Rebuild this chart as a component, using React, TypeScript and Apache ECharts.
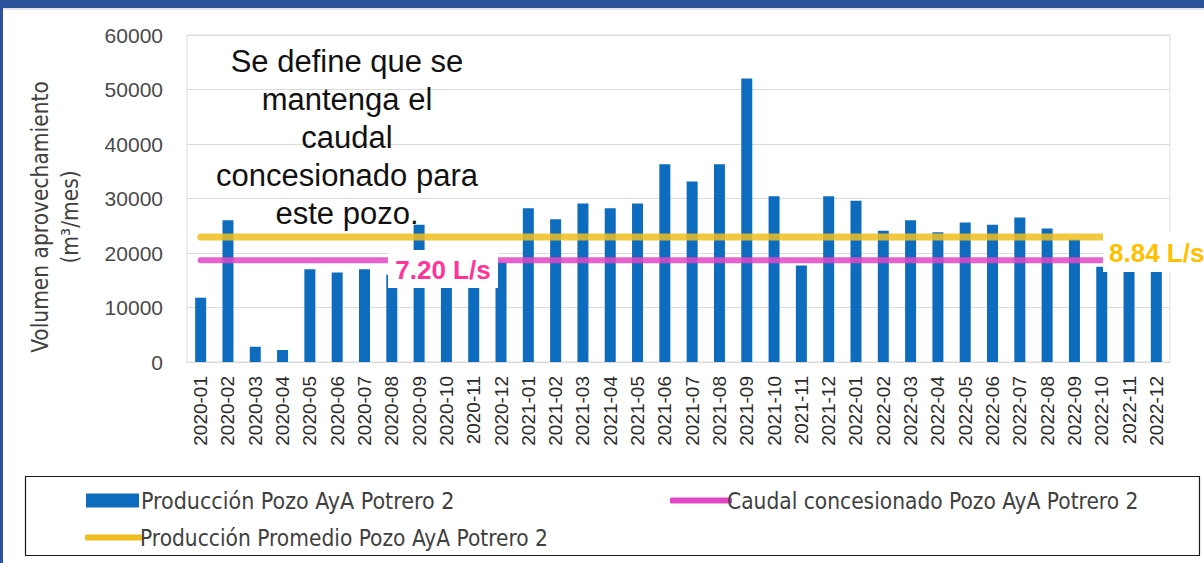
import React, { useEffect, useRef } from "react";
import * as echarts from "echarts";

const categories = [
  "2020-01","2020-02","2020-03","2020-04","2020-05","2020-06","2020-07","2020-08","2020-09","2020-10","2020-11","2020-12",
  "2021-01","2021-02","2021-03","2021-04","2021-05","2021-06","2021-07","2021-08","2021-09","2021-10","2021-11","2021-12",
  "2022-01","2022-02","2022-03","2022-04","2022-05","2022-06","2022-07","2022-08","2022-09","2022-10","2022-11","2022-12",
];
const produccion = [
  11800, 26000, 2800, 2200, 17000, 16400, 17000, 16000, 25200, 16000, 16000, 18300,
  28200, 26200, 29100, 28200, 29100, 36300, 33100, 36300, 52000, 30400, 17700, 30400,
  29600, 24100, 26000, 23800, 25600, 25200, 26500, 24500, 22500, 17500, 17000, 17000,
];
const caudalConcesionado = 18662; // 7.20 L/s
const produccionPromedio = 22913; // 8.84 L/s
const caudalLabel = "7.20 L/s";
const promedioLabel = "8.84 L/s";
const yTicks = { min: 0, max: 60000, interval: 10000 };
const seriesNames = [
  "Producción Pozo AyA Potrero 2",
  "Caudal concesionado Pozo AyA Potrero 2",
  "Producción Promedio Pozo AyA Potrero 2",
];
const noteText = "Se define que se\nmantenga el\ncaudal\nconcesionado para\neste pozo.";

const BLUE = "#0E6CBF";
const PINK = "#E346C4";
const YELLOW = "#EEBE1E";
const legendFont = "'Liberation Sans Narrow', 'DejaVu Sans Condensed', 'Liberation Sans', sans-serif";
const arial = "'Liberation Sans', Arial, sans-serif";

export default function App() {
  const ref = useRef<HTMLDivElement>(null);
  useEffect(() => {
    if (!ref.current) return;
    const chart = echarts.init(ref.current, undefined, { renderer: "svg" });
    const first = categories[0];
    const last = categories[categories.length - 1];
    chart.setOption({
      animation: false,
      backgroundColor: "#ffffff",
      grid: {
        left: 187, right: 34, top: 35, bottom: 201,
        show: true, borderColor: "#dcdcdc", borderWidth: 1,
      },
      xAxis: {
        type: "category",
        data: categories,
        axisLine: { lineStyle: { color: "#d9d9d9" } },
        axisTick: { show: false },
        axisLabel: {
          rotate: 90, interval: 0, margin: 14,
          fontSize: 19, color: "#2b2b2b", fontFamily: arial,
        },
      },
      yAxis: {
        type: "value",
        min: yTicks.min, max: yTicks.max, interval: yTicks.interval,
        axisLabel: {
          fontSize: 21, color: "#4a4a4a", margin: 24, fontFamily: arial,
          formatter: (v: number) => String(v),
        },
        splitLine: { lineStyle: { color: "#dcdcdc" } },
        axisLine: { show: false },
      },
      legend: [
        {
          left: 81, top: 484, itemWidth: 53, itemHeight: 14, itemGap: 0,
          data: [{ name: seriesNames[0], icon: "rect" }],
          textStyle: { fontSize: 23, color: "#404040", fontFamily: legendFont, padding: [0, 0, 0, -3] },
        },
        {
          left: 665, top: 484, itemWidth: 62, itemHeight: 6, itemGap: 0,
          data: [{ name: seriesNames[1], icon: "roundRect" }],
          textStyle: { fontSize: 22.5, color: "#404040", fontFamily: legendFont, padding: [0, 0, 0, -10] },
        },
        {
          left: 80, top: 521, itemWidth: 58, itemHeight: 6, itemGap: 0,
          data: [{ name: seriesNames[2], icon: "roundRect" }],
          textStyle: { fontSize: 22.5, color: "#404040", fontFamily: legendFont, padding: [0, 0, 0, -8] },
        },
      ],
      series: [
        {
          name: seriesNames[0], type: "bar", data: produccion, barWidth: 11,
          itemStyle: { color: BLUE }, z: 2,
        },
        {
          name: seriesNames[1], type: "line",
          data: [[first, caudalConcesionado], [last, caudalConcesionado]],
          symbol: "none", lineStyle: { color: PINK, width: 6, opacity: 0.85, cap: "round" },
          itemStyle: { color: PINK }, z: 3,
        },
        {
          name: seriesNames[2], type: "line",
          data: [[first, produccionPromedio], [last, produccionPromedio]],
          symbol: "none", lineStyle: { color: YELLOW, width: 7, opacity: 0.85, cap: "round" },
          itemStyle: { color: YELLOW }, z: 3,
        },
      ],
      graphic: [
        { type: "rect", shape: { x: 0, y: 0, width: 1204, height: 8 }, style: { fill: "#2D549B" }, z: 100 },
        { type: "rect", shape: { x: 0, y: 8, width: 1204, height: 2 }, style: { fill: "#e6e6e6" }, z: 100 },
        { type: "rect", shape: { x: 0, y: 0, width: 3, height: 563 }, style: { fill: "#2D549B" }, z: 100 },
        {
          type: "rect", shape: { x: 25.5, y: 476.5, width: 1174, height: 79 },
          style: { fill: "none", stroke: "#1a1a1a", lineWidth: 1.2 }, z: 50,
        },
        {
          type: "text", x: 55, y: 217, rotation: Math.PI / 2, z: 50,
          style: {
            text: "Volumen aprovechamiento\n(m³/mes)", align: "center", verticalAlign: "middle",
            fontSize: 22.5, lineHeight: 30, fill: "#404040", fontFamily: legendFont,
          },
        },
        {
          type: "text", x: 347, y: 42, z: 50,
          style: {
            text: noteText, align: "center", verticalAlign: "top",
            fontSize: 31, lineHeight: 38, fill: "#111111", fontFamily: arial,
          },
        },
        {
          type: "rect", shape: { x: 388, y: 250, width: 110, height: 38 },
          style: { fill: "#ffffff" }, z: 59,
        },
        {
          type: "text", x: 443, y: 270, z: 60,
          style: {
            text: caudalLabel, fontSize: 26, fontWeight: "bold", fill: "#FF3399",
            fontFamily: arial, align: "center", verticalAlign: "middle",
          },
        },
        {
          type: "rect", shape: { x: 1103, y: 232, width: 101, height: 40 },
          style: { fill: "#ffffff" }, z: 59,
        },
        {
          type: "text", x: 1109, y: 253, z: 60,
          style: {
            text: promedioLabel, fontSize: 26, fontWeight: "bold", fill: "#FFC000",
            fontFamily: arial, align: "left", verticalAlign: "middle",
          },
        },
      ],
    });
    return () => chart.dispose();
  }, []);
  return (
    <div
      ref={ref}
      style={{ position: "fixed", left: 0, top: 0, width: 1204, height: 563 }}
    />
  );
}
